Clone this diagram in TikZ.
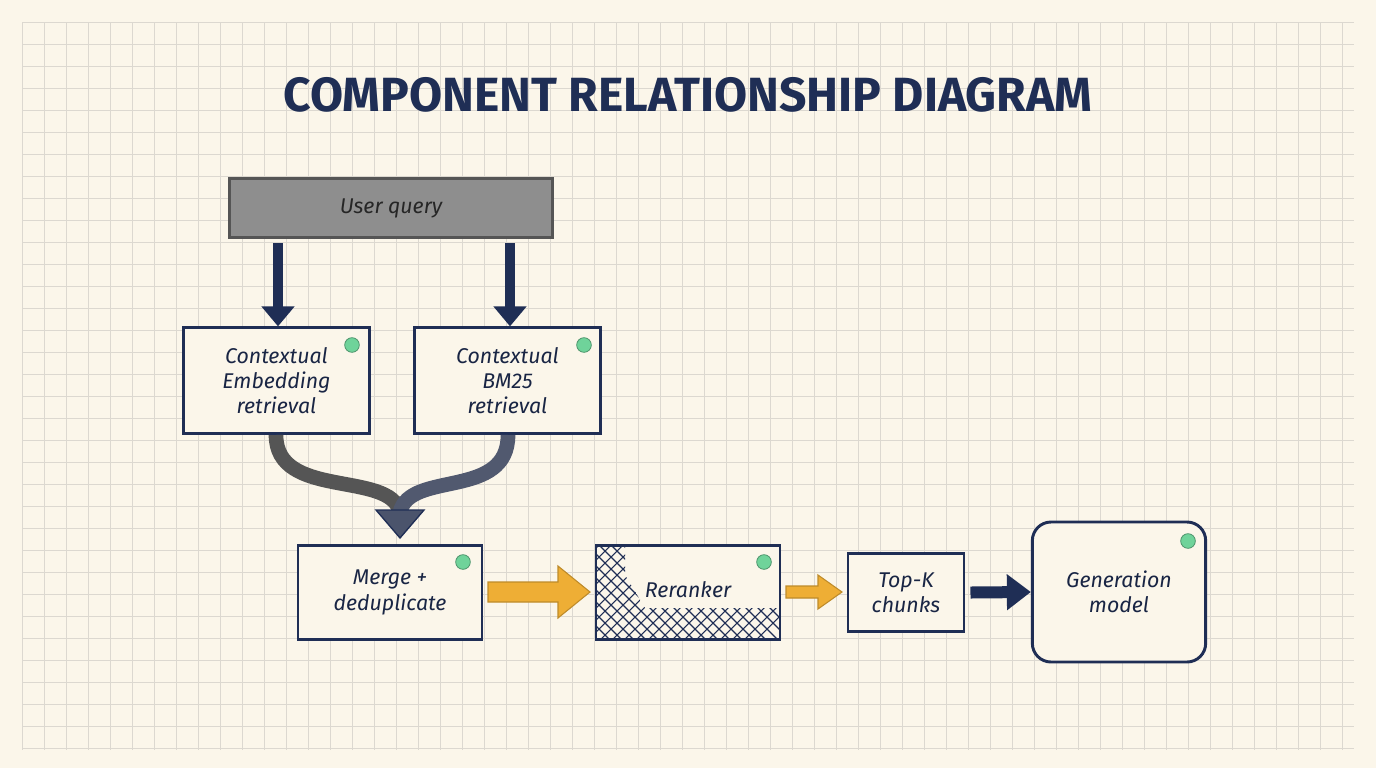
\documentclass[tikz,border=0pt]{standalone}
\usepackage{fontspec}
\setmainfont{Fira Sans}
\usetikzlibrary{arrows.meta}
\definecolor{bg}{HTML}{FBF6EA}
\definecolor{gridc}{HTML}{DCD8D0}
\definecolor{navy}{HTML}{1F2E55}
\definecolor{qgray}{HTML}{8E8E8E}
\definecolor{orng}{HTML}{EEAE35}
\definecolor{dotg}{HTML}{6FD39A}
\tikzset{
 box/.style={draw=navy,line width=2.2pt,fill=bg,font=\itshape\fontsize{16}{19}\selectfont,text=navy!80!black,align=center},
 dot/.style={circle,fill=dotg,draw=dotg!70!black,line width=0.6pt,minimum size=11pt,inner sep=0},
 navyarr/.style={draw=navy,line width=8pt,-{Triangle[length=15pt,width=24pt]}},
 orarr/.style={draw=orng!80!black,line width=0.8pt,fill=orng},
}
\begin{document}
\begin{tikzpicture}[x=0.75pt,y=-0.75pt]
\useasboundingbox (0,0) rectangle (1376,768);
\fill[bg] (0,0) rectangle (1376,768);
\foreach \i in {22,44,...,1354} \draw[gridc,line width=0.5pt] (\i,22) -- (\i,750);
\foreach \j in {22,44,...,750} \draw[gridc,line width=0.5pt] (22,\j) -- (1354,\j);
\node[font=\bfseries\fontsize{36}{40}\selectfont,text=navy] (title) at (688,95) {COMPONENT RELATIONSHIP DIAGRAM};
% user query
\node[draw=qgray!60!black,line width=1.8pt,fill=qgray,minimum width=242pt,minimum height=44pt,font=\itshape\fontsize{16}{19}\selectfont,text=black!85] (q) at (391,208) {User query};
\node[box,minimum width=139pt,minimum height=79pt] (emb) at (276.5,380.5) {Contextual\\Embedding\\retrieval};
\node[box,minimum width=139pt,minimum height=79pt] (bm) at (507.5,380.5) {Contextual\\BM25\\retrieval};
\node[dot] (d1) at (352,345) {};
\node[dot] (d2) at (584,345) {};
\draw[navyarr] (278,243) -- (emb.north -| 278,0);
\draw[navyarr] (510,243) -- (bm.north -| 510,0);
% merge
\node[box,minimum width=138pt,minimum height=71pt] (mg) at (390,592.5) {Merge +\\deduplicate};
\node[box,minimum width=138pt,minimum height=71pt] (rr) at (688,592.5) {};
\begin{scope}
\clip (597,546) -- (622,546) -- (622,570) -- (597,600) -- cycle;
\clip[overlay] (0,0) rectangle (1376,768);
\end{scope}
\begin{scope}
\clip (597,546) -- (625,546) -- (625,575) -- (645,608) -- (779,608) -- (779,639) -- (597,639) -- cycle;
\foreach \k in {0,12,...,360} {
  \draw[navy,line width=0.8pt] (597+\k-200,639) -- (597+\k,639-200);
  \draw[navy,line width=0.8pt] (597+\k-200,639-200) -- (597+\k,639);
}
\end{scope}
\node[font=\itshape\fontsize{16}{19}\selectfont,text=navy!80!black] (rrt) at (688,590) {Reranker};
\node[box,minimum width=87pt,minimum height=58pt] (tk) at (906,592.5) {Top-K\\chunks};
\node[box,rounded corners=14pt,minimum width=130pt,minimum height=105pt] (gm) at (1119,592) {Generation\\model};
\node[dot] (d3) at (463,562) {};
\node[dot] (d4) at (764,562) {};
\node[dot] (d5) at (1188,541) {};
\draw[qgray!60!black,line width=11pt] (276,435) .. controls (276,500) and (390,470) .. (400,512);
\draw[navy!55!qgray,line width=11pt] (508,435) .. controls (508,500) and (410,470) .. (400,512);
\fill[navy!60!qgray,draw=navy,line width=1pt] (376,510) -- (424,510) -- (400,538) -- cycle;
% arrows
\draw[orarr] (488,582) -- (558,582) -- (558,566) -- (590,592) -- (558,618) -- (558,602) -- (488,602) -- cycle;
\draw[orarr] (786,586) -- (818,586) -- (818,575) -- (842,592) -- (818,609) -- (818,598) -- (786,598) -- cycle;
\draw[navyarr,line width=9pt,-{Triangle[length=18pt,width=26pt]}] (tk.east) ++(5,0) -- (gm.west);
\end{tikzpicture}
\end{document}
